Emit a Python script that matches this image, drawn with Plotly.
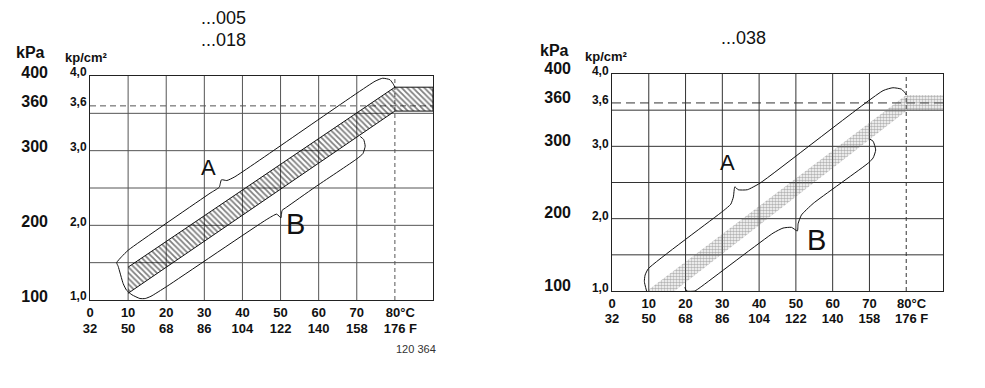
import plotly.graph_objects as go

NB = "\u00a0"
W, H = 985, 388

# ---- axis data ----
temp_c_vals = [0, 10, 20, 30, 40, 50, 60, 70, 80]
temp_c_text = ["0", "10", "20", "30", "40", "50", "60", "70", NB * 3 + "80°C"]
temp_f_text = ["32", "50", "68", "86", "104", "122", "140", "158", NB * 3 + "176" + NB + "F"]
press_vals = [1.0, 2.0, 3.0, 3.6, 4.0]
press_kp_text = ["1,0", "2,0", "3,0", "3,6", "4,0"]
press_kpa_text = ["100", "200", "300", "360", "400"]
grid_x = [10, 20, 30, 40, 50, 60, 70]
grid_y = [1.5, 2.0, 2.5, 3.0, 3.5]
ref_temp = 80
ref_press = 3.6
x_range = [0, 90]
y_range = [1.0, 4.0]

# ---- left chart (...005 / ...018) ----
band1_x = [10, 80, 90, 90, 80, 10]
band1_y = [1.44, 3.85, 3.85, 3.53, 3.53, 1.09]
outline1_x = [70.9, 71.8, 72.2, 71.6, 70.0, 59.0, 51.5, 50.4, 50.1, 49.0, 46.4, 20.1, 16.0, 14.5,
              13.1, 11.0, 9.6, 8.7, 7.4, 7.0, 8.3, 10.1, 31.5, 33.9, 34.5, 35.9, 38.0, 74.8,
              76.8, 78.7, 79.6, 80.0]
outline1_y = [3.19, 3.15, 3.06, 2.96, 2.89, 2.51, 2.24, 2.20, 2.10, 2.15, 2.08, 1.18, 1.05, 1.02,
              1.02, 1.07, 1.13, 1.22, 1.45, 1.50, 1.58, 1.67, 2.43, 2.51, 2.61, 2.60, 2.65, 3.93,
              3.97, 3.95, 3.89, 3.85]
labelA1 = (31.0, 2.78)
labelB1 = (53.8, 2.02)

# ---- right chart (...038) ----
band2_x = [9.5, 80, 90, 90, 80, 17]
band2_y = [1.0, 3.71, 3.71, 3.49, 3.49, 1.0]
outlineA2_x = [9.4, 8.8, 9.0, 9.9, 30.3, 32.3, 33.0, 33.4, 34.3, 36.8, 40.2, 73.7, 76.4, 78.7, 79.8, 80.0]
outlineA2_y = [1.0, 1.13, 1.22, 1.31, 2.11, 2.20, 2.30, 2.44, 2.40, 2.40, 2.49, 3.77, 3.81, 3.79, 3.73, 3.71]
outlineB2_x = [19.8, 20.3, 22.5, 24.0, 43.8, 46.5, 48.8, 50.4, 50.6, 51.5, 54.7, 69.7, 71.0, 71.7, 71.0, 70.1]
outlineB2_y = [1.05, 1.0, 1.0, 1.05, 1.80, 1.87, 1.88, 1.83, 1.93, 2.05, 2.21, 2.77, 2.84, 2.95, 3.07, 3.10]
labelA2 = (31.5, 2.78)
labelB2 = (55.7, 1.70)

FONT = "Liberation Sans"
INK = "#111111"

fig = go.Figure()

# bands
fig.add_trace(go.Scatter(x=band1_x, y=band1_y, fill="toself", mode="lines",
                         line=dict(color=INK, width=1), fillcolor="rgba(0,0,0,0)",
                         fillpattern=dict(shape="\\", size=4, solidity=0.45, fgcolor="#000"),
                         xaxis="x", yaxis="y", hoverinfo="skip", showlegend=False))
fig.add_trace(go.Scatter(x=outline1_x, y=outline1_y, mode="lines",
                         line=dict(color=INK, width=1, shape="spline", smoothing=0.5),
                         xaxis="x", yaxis="y", hoverinfo="skip", showlegend=False))

fig.add_trace(go.Scatter(x=band2_x, y=band2_y, fill="toself", mode="lines",
                         line=dict(color="rgba(0,0,0,0)", width=0), fillcolor="rgba(0,0,0,0)",
                         fillpattern=dict(shape=".", size=3, solidity=0.55, fgcolor="#6a6a6a"),
                         xaxis="x3", yaxis="y3", hoverinfo="skip", showlegend=False))
for ox, oy in [(outlineA2_x, outlineA2_y), (outlineB2_x, outlineB2_y)]:
    fig.add_trace(go.Scatter(x=ox, y=oy, mode="lines",
                             line=dict(color=INK, width=1, shape="spline", smoothing=0.5),
                             xaxis="x3", yaxis="y3", hoverinfo="skip", showlegend=False))

# invisible traces so the secondary (°F / kPa) axes are drawn
for xa, ya in [("x2", "y2"), ("x4", "y4")]:
    fig.add_trace(go.Scatter(x=[x_range[0]], y=[y_range[0]], mode="markers",
                             marker=dict(opacity=0, size=1), xaxis=xa, yaxis=ya,
                             hoverinfo="skip", showlegend=False))

# grid shapes
shapes = []
for xr, yr, gcol, dsh in [("x", "y", "#555", "6px,4px"), ("x3", "y3", "#333", "9px,5px")]:
    for gx in grid_x:
        shapes.append(dict(type="line", xref=xr, yref=yr, x0=gx, x1=gx, y0=y_range[0], y1=y_range[1],
                           line=dict(color=gcol, width=1), layer="below"))
    for gy in grid_y:
        shapes.append(dict(type="line", xref=xr, yref=yr, x0=x_range[0], x1=x_range[1], y0=gy, y1=gy,
                           line=dict(color=gcol, width=1), layer="below"))
    shapes.append(dict(type="line", xref=xr, yref=yr, x0=ref_temp, x1=ref_temp, y0=y_range[0], y1=y_range[1],
                       line=dict(color=gcol, width=1, dash="4px,3px"), layer="below"))
    shapes.append(dict(type="line", xref=xr, yref=yr, x0=x_range[0], x1=x_range[1], y0=ref_press, y1=ref_press,
                       line=dict(color=gcol, width=1, dash=dsh), layer="below"))

tickfont = dict(family=FONT, size=13, color=INK, weight="bold")
kpfont = dict(family=FONT, size=12, color=INK, weight="bold")
kpafont = dict(family=FONT, size=16, color=INK, weight="bold")

COMMON = dict(showgrid=False, zeroline=False, ticks="", tickmode="array", fixedrange=True,
              automargin=False, tickangle=0)

def xmain(domain, anchor, standoff):
    return dict(domain=domain, range=x_range, anchor=anchor, tickvals=temp_c_vals,
                ticktext=temp_c_text, showline=True, mirror=True, linecolor="#222", linewidth=1,
                tickfont=tickfont, ticklabelstandoff=standoff, **COMMON)

def xfree(over, domain, pos):
    return dict(overlaying=over, anchor="free", position=pos, domain=domain, range=x_range,
                tickvals=temp_c_vals, ticktext=temp_f_text, showline=False, tickfont=tickfont, **COMMON)

def ymain(domain, anchor, shift):
    return dict(domain=domain, range=y_range, anchor=anchor, tickvals=press_vals,
                ticktext=press_kp_text, showline=True, mirror=True, linecolor="#222", linewidth=1,
                tickfont=kpfont, ticklabelshift=shift, **COMMON)

def yfree(over, domain, pos, shift):
    return dict(overlaying=over, anchor="free", position=pos, domain=domain, range=y_range,
                tickvals=press_vals, ticktext=press_kpa_text, showline=False, tickfont=kpafont,
                ticklabelshift=shift, **COMMON)

L_xd = [90 / W, 433 / W]
L_yd = [(H - 300) / H, (H - 76) / H]
R_xd = [612 / W, 943 / W]
R_yd = [(H - 291) / H, (H - 74) / H]

annotations = []
def txt(x, y, s, size, weight="normal", xref="paper", yref="paper", color=INK):
    annotations.append(dict(x=x, y=y, xref=xref, yref=yref, text=s, showarrow=False,
                            font=dict(family=FONT, size=size, color=color, weight=weight),
                            xanchor="center", yanchor="middle"))

# titles
txt(223 / W, (H - 18) / H, "...005", 18)
txt(223 / W, (H - 40) / H, "...018", 18)
txt(743 / W, (H - 38) / H, "...038", 18)
# unit headers
txt(30 / W, (H - 53) / H, "kPa", 16, "bold")
txt(86 / W, (H - 57) / H, "kp/cm²", 13, "bold")
txt(554 / W, (H - 51) / H, "kPa", 16, "bold")
txt(606 / W, (H - 56) / H, "kp/cm²", 13, "bold")
# A / B
txt(labelA1[0], labelA1[1], "A", 22, xref="x", yref="y")
txt(labelB1[0], labelB1[1], "B", 29, xref="x", yref="y")
txt(labelA2[0], labelA2[1], "A", 22, xref="x3", yref="y3")
txt(labelB2[0], labelB2[1], "B", 29, xref="x3", yref="y3")
# figure number
txt(416 / W, (H - 349) / H, "120 364", 11, color="#333")

fig.update_layout(
    width=W, height=H, margin=dict(l=0, r=0, t=0, b=0, autoexpand=False),
    paper_bgcolor="white", plot_bgcolor="white", showlegend=False,
    xaxis=xmain(L_xd, "y", 0), yaxis=ymain(L_yd, "x", -4),
    xaxis2=xfree("x", L_xd, (H - 319) / H), yaxis2=yfree("y", L_yd, 48 / W, -4),
    xaxis3=xmain(R_xd, "y3", 0), yaxis3=ymain(R_yd, "x3", -3),
    xaxis4=xfree("x3", R_xd, (H - 309) / H), yaxis4=yfree("y3", R_yd, 571 / W, -6),
    shapes=shapes, annotations=annotations,
)

fig.write_html("out.html")
